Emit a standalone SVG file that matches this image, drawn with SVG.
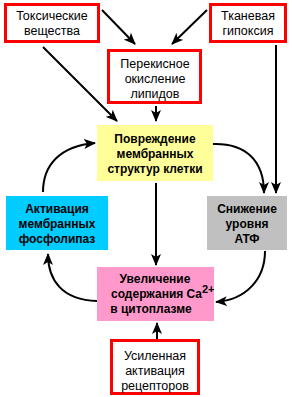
<svg xmlns="http://www.w3.org/2000/svg" width="292" height="397" viewBox="0 0 292 397">
<style>
.rb{fill:#ffffff;stroke:#ff0000;stroke-width:3}
.t{font-family:"Liberation Sans",Arial,sans-serif;font-size:12.5px;fill:#000;text-anchor:middle}
.b{font-family:"Liberation Sans",Arial,sans-serif;font-size:12px;font-weight:bold;fill:#000;text-anchor:middle}
.c{fill:none;stroke:#000;stroke-width:2;marker-end:url(#ah)}
</style>
<defs>
<marker id="ah" markerUnits="userSpaceOnUse" markerWidth="12" markerHeight="10" refX="11" refY="5" orient="auto" viewBox="0 0 12 10">
<path d="M0,0 L12,5 L0,10 L3,5 z" fill="#000"/>
</marker>
</defs>
<rect width="292" height="397" fill="#ffffff"/>
<g id="toxic">
<rect class="rb" x="5.5" y="4.5" width="93" height="37"/>
<text class="t" x="52" y="20">Токсические</text>
<text class="t" x="52" y="35">вещества</text>
</g>
<g id="hypoxia">
<rect class="rb" x="210.5" y="4.5" width="75" height="37"/>
<text class="t" x="248" y="20">Тканевая</text>
<text class="t" x="248" y="35">гипоксия</text>
</g>
<g id="peroxide">
<rect class="rb" x="108.5" y="50.5" width="92" height="52"/>
<text class="t" x="155" y="68">Перекисное</text>
<text class="t" x="155" y="83">окисление</text>
<text class="t" x="155" y="98">липидов</text>
</g>
<g id="damage">
<rect x="97" y="125" width="116" height="56" fill="#ffff99"/>
<text class="b" x="155" y="143">Повреждение</text>
<text class="b" x="155" y="158">мембранных</text>
<text class="b" x="155" y="173">структур клетки</text>
</g>
<g id="phospholipase">
<rect x="6" y="196" width="102" height="54" fill="#00ccff"/>
<text class="b" x="57" y="213">Активация</text>
<text class="b" x="57" y="228">мембранных</text>
<text class="b" x="57" y="243">фосфолипаз</text>
</g>
<g id="atp">
<rect x="207" y="196" width="80" height="54" fill="#c0c0c0"/>
<text class="b" x="247" y="213">Снижение</text>
<text class="b" x="247" y="228">уровня</text>
<text class="b" x="247" y="243">АТФ</text>
</g>
<g id="calcium">
<rect x="97" y="267" width="117" height="54" fill="#ff99cc"/>
<text class="b" x="155" y="283">Увеличение</text>
<text class="b" x="111" y="298" style="text-anchor:start">содержания Ca<tspan dy="-5" font-size="11px">2+</tspan></text>
<text class="b" x="151" y="313">в цитоплазме</text>
</g>
<g id="receptors">
<rect class="rb" x="111.5" y="340.5" width="87" height="53"/>
<text class="t" x="155" y="360">Усиленная</text>
<text class="t" x="155" y="375">активация</text>
<text class="t" x="155" y="390">рецепторов</text>
</g>
<g id="connectors">
<path class="c" d="M102,10 L135,44"/>
<path class="c" d="M207,10 L172,44"/>
<path class="c" d="M43,47 L117,121"/>
<path class="c" d="M156,106 L156,121"/>
<path class="c" d="M276,45 L276,193"/>
<path class="c" d="M213,144 C245,143 264,160 264,193"/>
<path class="c" d="M156,183 L156,265"/>
<path class="c" d="M43,192 C43,165 60,146 95,143"/>
<path class="c" d="M97,301 C62,300 48,280 48,254"/>
<path class="c" d="M265,251 C265,280 245,300 216,302"/>
<path class="c" d="M157,339 L157,323"/>
</g>
</svg>
